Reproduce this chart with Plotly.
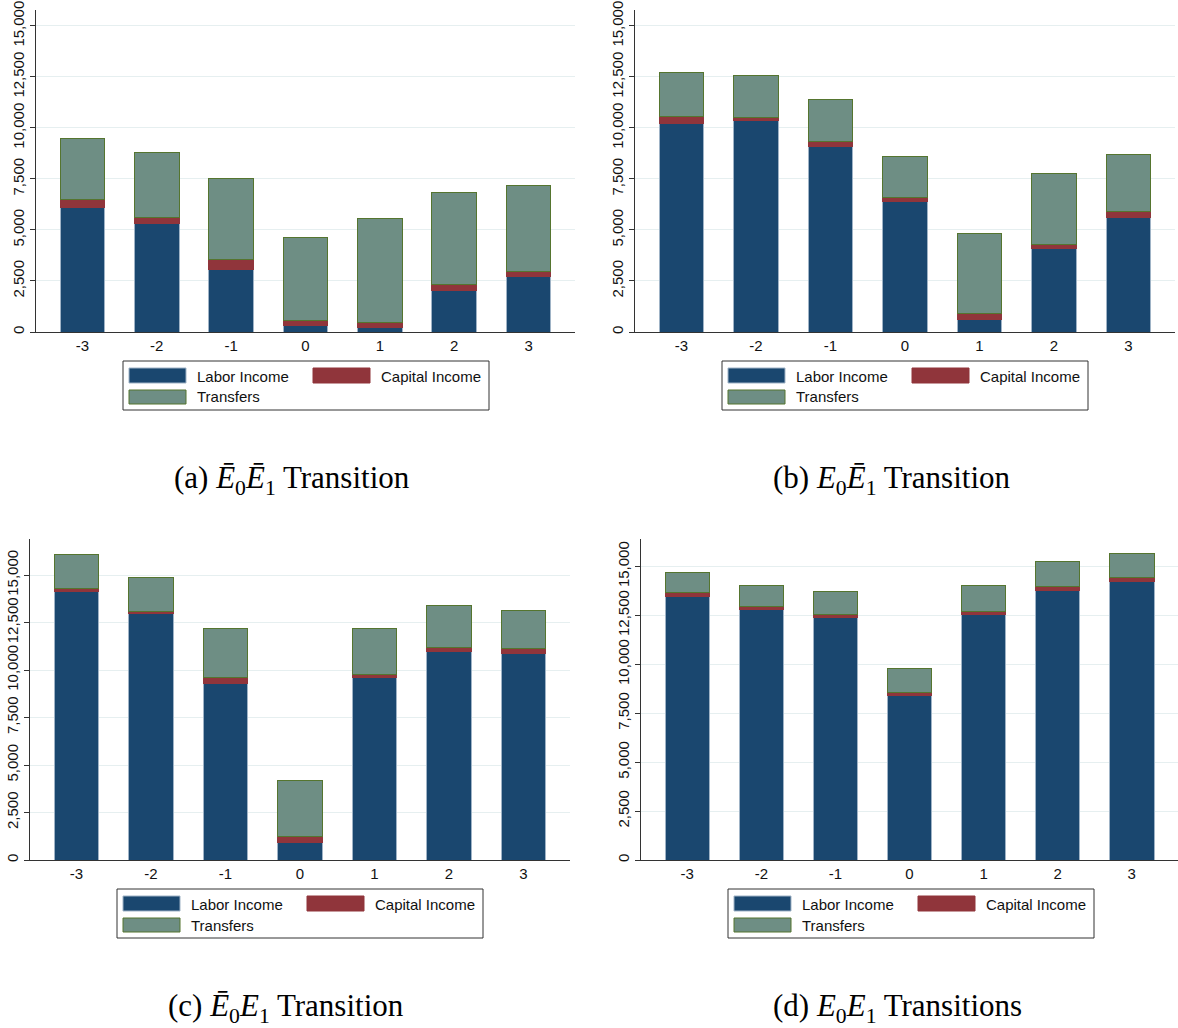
import plotly.graph_objects as go

# ---------------- data ----------------
periods = [-3, -2, -1, 0, 1, 2, 3]
period_labels = ["-3", "-2", "-1", "0", "1", "2", "3"]
series_names = ["Labor Income", "Capital Income", "Transfers"]

labor_a = [6125, 5341, 3087, 343, 245, 2025, 2744]
capital_a = [392, 294, 457, 230, 212, 294, 212]
transfers_a = [2973, 3152, 4002, 4067, 5129, 4508, 4247]

labor_b = [10225, 10355, 9114, 6403, 621, 4083, 5587]
capital_b = [359, 165, 246, 212, 277, 229, 309]
transfers_b = [2156, 2073, 2040, 1993, 3920, 3463, 2810]

labor_c = [14124, 12982, 9275, 932, 9609, 10980, 10874]
capital_c = [176, 106, 335, 280, 175, 227, 246]
transfers_c = [1790, 1792, 2564, 2951, 2425, 2214, 2037]

labor_d = [13444, 12778, 12403, 8422, 12522, 13786, 14248]
capital_d = [206, 155, 136, 137, 188, 188, 187]
transfers_d = [1059, 1110, 1196, 1247, 1298, 1264, 1213]

y_ticks = [0, 2500, 5000, 7500, 10000, 12500, 15000]

captions = [
    "(a) <i>Ē</i><sub>0</sub><i>Ē</i><sub>1</sub> Transition",
    "(b) <i>E</i><sub>0</sub><i>Ē</i><sub>1</sub> Transition",
    "(c) <i>Ē</i><sub>0</sub><i>E</i><sub>1</sub> Transition",
    "(d) <i>E</i><sub>0</sub><i>E</i><sub>1</sub> Transitions",
]

# ---------------- styling ----------------
W, H = 1178, 1028
fill_colors = ["#1a476f", "#90353b", "#6e8e84"]
line_colors = ["#9fb3c6", "#90353b", "#55752f"]


def px(x):
    return x / W


def py(y):
    return 1 - y / H


# panel geometry in pixels: left, right, top, bottom, y max
panels = [
    dict(l=36, r=575, t=10, b=332, ymax=15780, data=(labor_a, capital_a, transfers_a)),
    dict(l=635, r=1175, t=10, b=332, ymax=15780, data=(labor_b, capital_b, transfers_b)),
    dict(l=30, r=570, t=539, b=860, ymax=16900, data=(labor_c, capital_c, transfers_c)),
    dict(l=641, r=1178, t=539, b=860, ymax=16400, data=(labor_d, capital_d, transfers_d)),
]

fig = go.Figure()
shapes = []
annotations = []

for i, p in enumerate(panels):
    k = "" if i == 0 else str(i + 1)
    for j, vals in enumerate(p["data"]):
        fig.add_trace(go.Bar(
            x=periods, y=vals, name=series_names[j],
            xaxis="x" + k, yaxis="y" + k,
            width=0.6,
            marker=dict(color=fill_colors[j], line=dict(color=line_colors[j], width=1)),
            showlegend=False,
        ))
    fig.layout["xaxis" + k] = dict(
        domain=[px(p["l"]), px(p["r"])], anchor="y" + k,
        range=[-3.624, 3.624], tickvals=periods, ticktext=period_labels,
        showgrid=False, zeroline=False, showline=True, linecolor="#333333", linewidth=1,
        ticks="", tickfont=dict(family="Liberation Sans, Arial", size=15, color="#111111"),
        fixedrange=True, automargin=False,
    )
    fig.layout["yaxis" + k] = dict(
        domain=[py(p["b"]), py(p["t"])], anchor="x" + k,
        range=[0, p["ymax"]], tickvals=y_ticks, tickformat=",",
        tickangle=-90, showgrid=True, gridcolor="#e6eff0", gridwidth=1,
        zeroline=False, showline=True, linecolor="#333333", linewidth=1,
        ticks="outside", ticklen=5, tickcolor="#333333",
        ticklabeloverflow="allow",
        tickfont=dict(family="Liberation Sans, Arial", size=15, color="#111111"),
        fixedrange=True, automargin=False,
    )

    # legend box (decoration)
    bx0 = p["l"] + 87
    by0 = p["b"] + 29
    shapes.append(dict(type="rect", xref="paper", yref="paper",
                       x0=px(bx0), x1=px(bx0 + 366), y0=py(by0 + 49), y1=py(by0),
                       line=dict(color="#333333", width=1), fillcolor="white", layer="below"))
    entries = [
        (0, bx0 + 6, by0 + 7, by0 + 22, bx0 + 72, by0 + 15),
        (1, bx0 + 190, by0 + 7, by0 + 22, bx0 + 256, by0 + 15),
        (2, bx0 + 6, by0 + 29, by0 + 43, bx0 + 72, by0 + 36),
    ]
    for (j, sx, sy0, sy1, tx, ty) in entries:
        shapes.append(dict(type="rect", xref="paper", yref="paper",
                           x0=px(sx), x1=px(sx + 57), y0=py(sy1), y1=py(sy0),
                           line=dict(color=line_colors[j], width=1), fillcolor=fill_colors[j]))
        annotations.append(dict(xref="paper", yref="paper", x=px(tx), y=py(ty),
                                text=series_names[j], showarrow=False,
                                xanchor="left", yanchor="middle",
                                font=dict(family="Liberation Sans, Arial", size=15, color="#111111")))
    # caption
    annotations.append(dict(xref="paper", yref="paper", x=px(p["l"] + 256), y=py(p["b"] + 148),
                            text=captions[i], showarrow=False, xanchor="center", yanchor="middle",
                            font=dict(family="Liberation Serif, Times New Roman, serif", size=31,
                                      color="#000000")))

fig.update_layout(
    width=W, height=H, barmode="stack",
    margin=dict(l=0, r=0, t=0, b=0, autoexpand=False),
    paper_bgcolor="white", plot_bgcolor="white",
    shapes=shapes, annotations=annotations,
    bargap=0.4,
)

fig.write_html("out.html", config={"displayModeBar": False})

# remove the default page margin so the figure sits at the window's top-left corner
with open("out.html", "r", encoding="utf-8") as f:
    html = f.read()
html = html.replace(
    "<head>",
    "<head><style>html,body{margin:0;padding:0;overflow:hidden;}</style>",
    1,
)
with open("out.html", "w", encoding="utf-8") as f:
    f.write(html)
